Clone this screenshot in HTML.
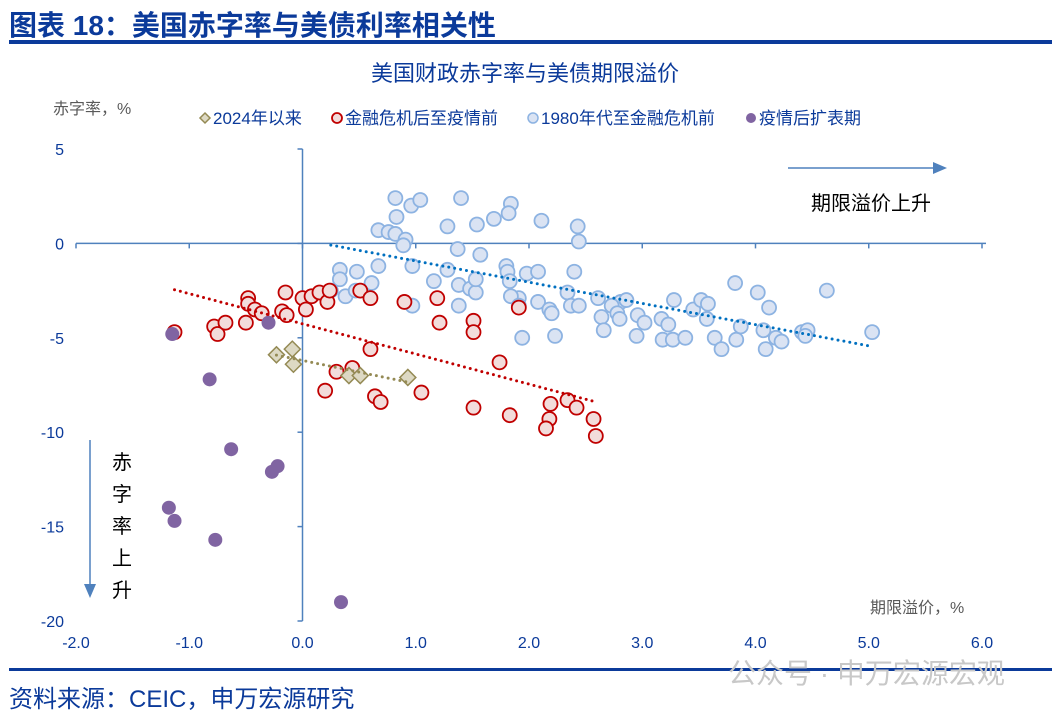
<!DOCTYPE html>
<html><head><meta charset="utf-8">
<style>
body{margin:0;width:1052px;height:714px;background:#fff;overflow:hidden;font-family:"Liberation Sans","Noto Sans CJK SC",sans-serif;position:relative}
.t{position:absolute;white-space:nowrap}
</style></head><body>
<div class="t" style="left:9px;top:4px;font-size:28px;font-weight:bold;color:#0b3a9a">图表 18：美国赤字率与美债利率相关性</div>
<div style="position:absolute;left:9px;top:40px;width:1043px;height:4px;background:#0b3a9a"></div>
<svg id="chart" width="1052" height="714" style="position:absolute;left:0;top:0" xmlns="http://www.w3.org/2000/svg" font-family="Liberation Sans, Noto Sans CJK SC, sans-serif"></svg>
<div style="position:absolute;left:9px;top:668px;width:1043px;height:3px;background:#0b3a9a"></div>
<div class="t" style="left:728px;top:652px;font-size:28px;color:#c8c8c8">公众号 · 申万宏源宏观</div>
<div class="t" style="left:9px;top:679px;font-size:24px;color:#0b3a9a">资料来源：CEIC，申万宏源研究</div>
<script>
const xTicks=[-2,-1,0,1,2,3,4,5,6];
const xTickLabels=["-2.0","-1.0","0.0","1.0","2.0","3.0","4.0","5.0","6.0"];
const yTicks=[5,0,-5,-10,-15,-20];
const yTickLabels=["5","0","-5","-10","-15","-20"];
const blueX=[0.82,0.96,1.04,1.4,1.84,1.82,1.69,1.54,1.28,0.83,0.67,0.76,0.82,0.91,0.89,2.11,2.43,2.44,1.37,1.57,0.33,0.33,0.48,0.67,0.61,0.25,0.38,0.47,0.51,0.97,0.97,1.16,1.28,1.38,1.38,1.48,1.53,1.53,1.8,1.81,1.98,2.08,1.91,1.94,2.08,2.18,2.2,2.23,2.4,2.34,2.37,2.44,1.83,1.84,1.91,2.61,2.64,2.66,2.81,2.73,2.78,2.8,2.86,2.96,3.02,2.95,3.17,3.18,3.23,3.27,3.28,3.38,3.45,3.52,3.58,3.57,3.64,3.7,3.82,3.83,3.87,4.02,4.07,4.09,4.12,4.18,4.23,4.41,4.46,4.44,4.63,5.03];
const blueY=[2.4,2.0,2.3,2.4,2.1,1.6,1.3,1.0,0.9,1.4,0.7,0.6,0.5,0.2,-0.1,1.2,0.9,0.1,-0.3,-0.6,-1.4,-1.9,-1.5,-1.2,-2.1,-2.5,-2.8,-2.5,-2.5,-1.2,-3.3,-2.0,-1.4,-2.2,-3.3,-2.4,-2.6,-1.9,-1.2,-1.5,-1.6,-1.5,-2.9,-5.0,-3.1,-3.5,-3.7,-4.9,-1.5,-2.6,-3.3,-3.3,-2.0,-2.8,-3.3,-2.9,-3.9,-4.6,-3.1,-3.3,-3.7,-4.0,-3.0,-3.8,-4.2,-4.9,-4.0,-5.1,-4.3,-5.1,-3.0,-5.0,-3.5,-3.0,-3.2,-4.0,-5.0,-5.6,-2.1,-5.1,-4.4,-2.6,-4.6,-5.6,-3.4,-5.0,-5.2,-4.7,-4.6,-4.9,-2.5,-4.7];
const redX=[-1.13,-0.78,-0.75,-0.68,-0.5,-0.48,-0.48,-0.42,-0.36,-0.18,-0.14,-0.15,0,0.03,0.08,0.15,0.22,0.24,0.51,0.6,0.9,1.19,1.21,1.51,1.51,1.91,0.6,0.2,0.3,0.44,0.64,0.69,1.05,1.51,1.74,1.83,2.19,2.18,2.15,2.34,2.42,2.57,2.59];
const redY=[-4.7,-4.4,-4.8,-4.2,-4.2,-2.9,-3.2,-3.5,-3.7,-3.6,-3.8,-2.6,-2.9,-3.5,-2.8,-2.6,-3.1,-2.5,-2.5,-2.9,-3.1,-2.9,-4.2,-4.1,-4.7,-3.4,-5.6,-7.8,-6.8,-6.6,-8.1,-8.4,-7.9,-8.7,-6.3,-9.1,-8.5,-9.3,-9.8,-8.3,-8.7,-9.3,-10.2];
const khakiX=[-0.23,-0.09,-0.08,0.41,0.51,0.93];
const khakiY=[-5.9,-5.6,-6.4,-7.0,-7.0,-7.1];
const purpleX=[-1.15,-0.3,-0.82,-0.63,-0.22,-0.27,-1.18,-1.13,-0.77,0.34];
const purpleY=[-4.8,-4.2,-7.2,-10.9,-11.8,-12.1,-14.0,-14.7,-15.7,-19.0];

const svg=document.getElementById('chart');
const NS='http://www.w3.org/2000/svg';
const X0=76,X1=982,Y0=149,Y1=621;
function sx(v){return X0+(v+2)/8*(X1-X0);}
function sy(v){return Y0+(5-v)/25*(Y1-Y0);}
function mk(tag,at,txt){const e=document.createElementNS(NS,tag);for(const k in at)e.setAttribute(k,at[k]);if(txt!==undefined)e.textContent=txt;svg.appendChild(e);return e;}

let e;
e=mk('text',{x:525,y:81,'font-size':22,fill:'#0b3a9a','text-anchor':'middle'},'美国财政赤字率与美债期限溢价');


e=mk('text',{x:53,y:114,'font-size':16,fill:'#595959'},'赤字率，%');


e=mk('text',{x:870,y:613,'font-size':16,fill:'#595959'},'期限溢价，%');



e=mk('line',{x1:X0,y1:sy(0),x2:X1+4,y2:sy(0),stroke:'#4f81bd','stroke-width':1.5});


e=mk('line',{x1:sx(0),y1:Y0,x2:sx(0),y2:Y1,stroke:'#4f81bd','stroke-width':1.5});


xTicks.forEach((t,i)=>{
  e=mk('line',{x1:sx(t),y1:sy(0),x2:sx(t),y2:sy(0)+5,stroke:'#4f81bd','stroke-width':1.5});
  
  
  e=mk('text',{x:sx(t),y:648,'font-size':16,fill:'#0b3a9a','text-anchor':'middle'},xTickLabels[i]);
  
  
});
yTicks.forEach((t,i)=>{
  e=mk('line',{x1:sx(0)-5,y1:sy(t),x2:sx(0),y2:sy(t),stroke:'#4f81bd','stroke-width':1.5});
  
  
  e=mk('text',{x:64,y:sy(t)+6,'font-size':16,fill:'#0b3a9a','text-anchor':'end'},yTickLabels[i]);
  
  
});

e=mk('line',{x1:788,y1:168,x2:935,y2:168,stroke:'#4f81bd','stroke-width':1.5});


mk('polygon',{points:'933,162 947,168 933,174',fill:'#4f81bd'});
e=mk('text',{x:811,y:210,'font-size':20,fill:'#000'},'期限溢价上升');


e=mk('line',{x1:90,y1:440,x2:90,y2:586,stroke:'#4f81bd','stroke-width':1.5});


mk('polygon',{points:'84,584 90,598 96,584',fill:'#4f81bd'});
['赤','字','率','上','升'].forEach((c,i)=>{
  e=mk('text',{x:122,y:469+i*32,'font-size':20,fill:'#000','text-anchor':'middle'},c);
  
  
});

function reg(xs,ys,color,name){
  const n=xs.length;let mx=0,my=0;xs.forEach((v,i)=>{mx+=v;my+=ys[i];});mx/=n;my/=n;
  let sxy=0,sxx=0;xs.forEach((v,i)=>{sxy+=(v-mx)*(ys[i]-my);sxx+=(v-mx)*(v-mx);});
  const b=sxy/sxx,a=my-b*mx;const lo=Math.min(...xs),hi=Math.max(...xs);
  const l=mk('line',{x1:sx(lo),y1:sy(a+b*lo),x2:sx(hi),y2:sy(a+b*hi),stroke:color,'stroke-width':3,'stroke-dasharray':'0 6','stroke-linecap':'round'});
  
  
}
function circles(xs,ys,fill,stroke,name){
  xs.forEach((v,i)=>{
    const c=mk('circle',{cx:sx(v),cy:sy(ys[i]),r:7,fill:fill,stroke:stroke,'stroke-width':1.8});
    
    
  });
}
circles(blueX,blueY,'#dae3f3','#8db3e2','point-1980-to-gfc');
circles(redX,redY,'#f2dcdb','#c00000','point-post-gfc');
khakiX.forEach((v,i)=>{
  const cx=sx(v),cy=sy(khakiY[i]);
  const d=mk('polygon',{points:`${cx},${cy-8} ${cx+8},${cy} ${cx},${cy+8} ${cx-8},${cy}`,fill:'#ddd9c4',stroke:'#948a54','stroke-width':1.5});
  
  
});
purpleX.forEach((v,i)=>{
  const c=mk('circle',{cx:sx(v),cy:sy(purpleY[i]),r:7,fill:'#8064a2'});
  
  
});
reg(blueX,blueY,'#0070c0','trend-1980-to-gfc');
reg(redX,redY,'#c00000','trend-post-gfc');
reg(khakiX,khakiY,'#948a54','trend-since-2024');

const lg=[[205,'2024年以来','d'],[337,'金融危机后至疫情前','r'],[533,'1980年代至金融危机前','b'],[751,'疫情后扩表期','p']];
lg.forEach(l=>{
  const x=l[0],y=118;
  if(l[2]=='d'){mk('polygon',{points:`${x},${y-5} ${x+5},${y} ${x},${y+5} ${x-5},${y}`,fill:'#ddd9c4',stroke:'#948a54','stroke-width':1.5});}
  else if(l[2]=='r'){mk('circle',{cx:x,cy:y,r:5,fill:'#f2dcdb',stroke:'#c00000','stroke-width':1.8});}
  else if(l[2]=='b'){mk('circle',{cx:x,cy:y,r:5,fill:'#dae3f3',stroke:'#8db3e2','stroke-width':1.5});}
  else {mk('circle',{cx:x,cy:y,r:5,fill:'#8064a2'});}
  const t=mk('text',{x:x+8,y:y+6,'font-size':17,fill:'#0b3a9a'},l[1]);
  
  
});
</script>
</body></html>
